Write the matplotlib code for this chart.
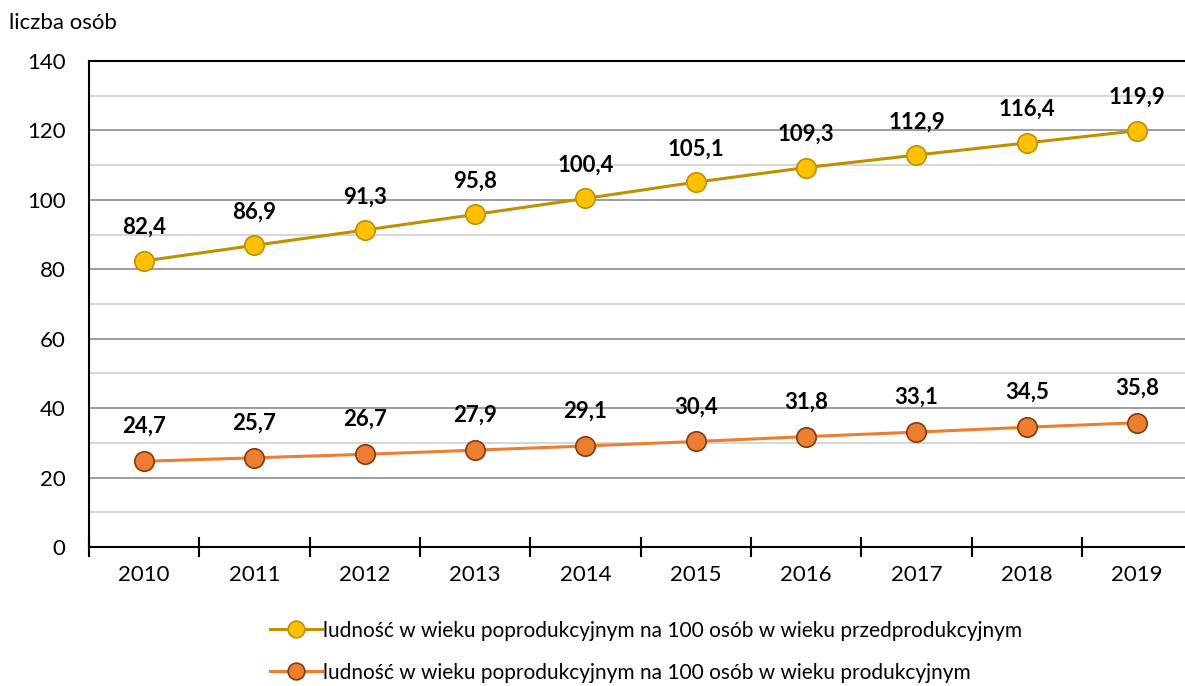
import matplotlib
matplotlib.use('Agg')
import matplotlib.pyplot as plt
from matplotlib.ticker import MultipleLocator, FixedLocator
from matplotlib.lines import Line2D
import numpy as np

plt.rcParams['font.family'] = ['Lato', 'DejaVu Sans']

# Data series
years = ['2010', '2011', '2012', '2013', '2014', '2015', '2016', '2017', '2018', '2019']
przedprod = [82.4, 86.9, 91.3, 95.8, 100.4, 105.1, 109.3, 112.9, 116.4, 119.9]
prod = [24.7, 25.7, 26.7, 27.9, 29.1, 30.4, 31.8, 33.1, 34.5, 35.8]
labels = ['ludność w wieku poprodukcyjnym na 100 osób w wieku przedprodukcyjnym',
          'ludność w wieku poprodukcyjnym na 100 osób w wieku produkcyjnym']

fig = plt.figure(figsize=(11.85, 6.86), dpi=100)
ax = fig.add_axes([0.0751, 0.2026, 0.9310, 0.7085])

x = np.arange(len(years))

ax.plot(x, przedprod, color='#BF9000', lw=2.2, marker='o', ms=14,
        mfc='#FFC000', mec='#BF9000', mew=1.2, zorder=4)
ax.plot(x, prod, color='#ED7D31', lw=2.2, marker='o', ms=14,
        mfc='#ED7D31', mec='#843C0C', mew=1.2, zorder=4)

for xi, v in zip(x, przedprod):
    ax.annotate(f'{v:.1f}'.replace('.', ','), (xi, v), xytext=(0, 24),
                textcoords='offset points', ha='center', va='center',
                fontsize=16, fontweight='bold')
for xi, v in zip(x, prod):
    ax.annotate(f'{v:.1f}'.replace('.', ','), (xi, v), xytext=(0, 25),
                textcoords='offset points', ha='center', va='center',
                fontsize=16, fontweight='bold')

ax.set_xlim(-0.5, len(years) - 0.5)
ax.set_ylim(0, 140)
ax.yaxis.set_major_locator(MultipleLocator(20))
ax.yaxis.set_minor_locator(MultipleLocator(10))
ax.grid(axis='y', which='major', color='#8C8C8C', lw=1.2, zorder=0)
ax.grid(axis='y', which='minor', color='#D0D0D0', lw=1.2, zorder=0)
ax.set_axisbelow(True)

ax.set_xticks(x)
ax.set_xticklabels(years)
ax.xaxis.set_minor_locator(FixedLocator(np.arange(-0.5, len(years), 1)))
ax.tick_params(axis='x', which='major', length=0, pad=13, labelsize=16)
ax.tick_params(axis='x', which='minor', direction='inout', length=14, width=1.5)
ax.tick_params(axis='y', which='both', length=0, pad=17, labelsize=16)

for side in ['left', 'bottom', 'top']:
    ax.spines[side].set_color('black')
    ax.spines[side].set_linewidth(1.5)
ax.spines['right'].set_visible(False)

fig.text(0.008, 0.967, 'liczba osób', fontsize=16, ha='left', va='center')

handles = [
    Line2D([], [], color='#BF9000', lw=2.2, marker='o', ms=12,
           mfc='#FFC000', mec='#BF9000', mew=1.2),
    Line2D([], [], color='#ED7D31', lw=2.2, marker='o', ms=12,
           mfc='#ED7D31', mec='#843C0C', mew=1.2),
]
fig.legend(handles, labels, loc='center', bbox_to_anchor=(0.545, 0.05),
           ncol=1, frameon=False, fontsize=15, handlelength=2.5,
           handletextpad=0.05, labelspacing=1.05)

fig.savefig('out.png', dpi=100)
